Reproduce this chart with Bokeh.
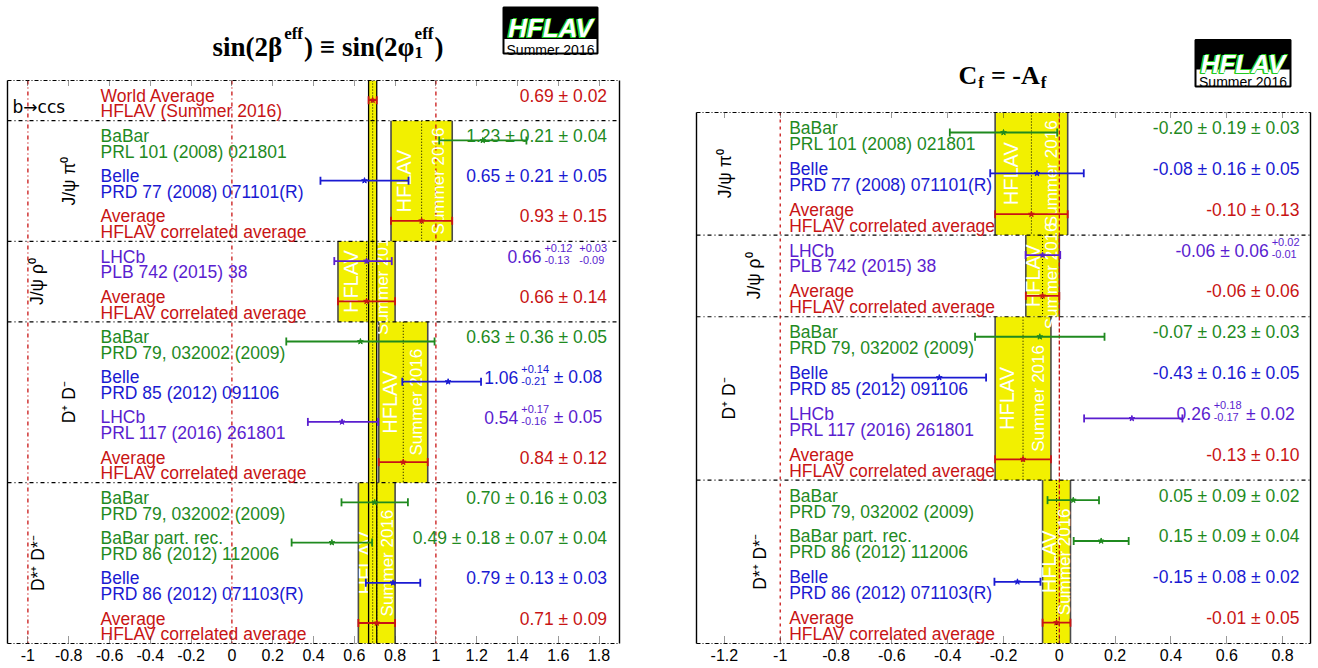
import math
from bokeh.plotting import figure
from bokeh.layouts import row, column
from bokeh.models import Range1d, LinearAxis, FixedTicker
from bokeh.core.properties import value
from bokeh.embed import file_html
from bokeh.resources import INLINE

# ---------------- data: left panel  sin(2beta_eff) ----------------
L_groups = ["b→ccs", "J/ψ π⁰", "J/ψ ρ⁰", "D⁺ D⁻", "D*⁺ D*⁻"]
L_group_sizes = [1, 3, 2, 4, 4]
L_exp = ["World Average", "BaBar", "Belle", "Average", "LHCb", "Average",
         "BaBar", "Belle", "LHCb", "Average",
         "BaBar", "BaBar part. rec.", "Belle", "Average"]
L_ref = ["HFLAV (Summer 2016)", "PRL 101 (2008) 021801", "PRD 77 (2008) 071101(R)",
         "HFLAV correlated average", "PLB 742 (2015) 38", "HFLAV correlated average",
         "PRD 79, 032002 (2009)", "PRD 85 (2012) 091106", "PRL 117 (2016) 261801",
         "HFLAV correlated average", "PRD 79, 032002 (2009)", "PRD 86 (2012) 112006",
         "PRD 86 (2012) 071103(R)", "HFLAV correlated average"]
L_val = [0.69, 1.23, 0.65, 0.93, 0.66, 0.66, 0.63, 1.06, 0.54, 0.84, 0.70, 0.49, 0.79, 0.71]
L_err_hi = [[0.02], [0.21, 0.04], [0.21, 0.05], [0.15], [0.12, 0.03], [0.14],
            [0.36, 0.05], [0.14, 0.08], [0.17, 0.05], [0.12],
            [0.16, 0.03], [0.18, 0.07, 0.04], [0.13, 0.03], [0.09]]
L_err_lo = [[0.02], [0.21, 0.04], [0.21, 0.05], [0.15], [0.13, 0.09], [0.14],
            [0.36, 0.05], [0.21, 0.08], [0.16, 0.05], [0.12],
            [0.16, 0.03], [0.18, 0.07, 0.04], [0.13, 0.03], [0.09]]
L_ticks = [-1, -0.8, -0.6, -0.4, -0.2, 0, 0.2, 0.4, 0.6, 0.8, 1, 1.2, 1.4, 1.6, 1.8]
L_tick_labels = ["-1", "-0.8", "-0.6", "-0.4", "-0.2", "0", "0.2", "0.4", "0.6",
                 "0.8", "1", "1.2", "1.4", "1.6", "1.8"]

# ---------------- data: right panel  C_f = -A_f ----------------
R_groups = ["J/ψ π⁰", "J/ψ ρ⁰", "D⁺ D⁻", "D*⁺ D*⁻"]
R_group_sizes = [3, 2, 4, 4]
R_exp = ["BaBar", "Belle", "Average", "LHCb", "Average",
         "BaBar", "Belle", "LHCb", "Average",
         "BaBar", "BaBar part. rec.", "Belle", "Average"]
R_ref = ["PRL 101 (2008) 021801", "PRD 77 (2008) 071101(R)", "HFLAV correlated average",
         "PLB 742 (2015) 38", "HFLAV correlated average",
         "PRD 79, 032002 (2009)", "PRD 85 (2012) 091106", "PRL 117 (2016) 261801",
         "HFLAV correlated average", "PRD 79, 032002 (2009)", "PRD 86 (2012) 112006",
         "PRD 86 (2012) 071103(R)", "HFLAV correlated average"]
R_val = [-0.20, -0.08, -0.10, -0.06, -0.06, -0.07, -0.43, 0.26, -0.13, 0.05, 0.15, -0.15, -0.01]
R_err_hi = [[0.19, 0.03], [0.16, 0.05], [0.13], [0.06, 0.02], [0.06],
            [0.23, 0.03], [0.16, 0.05], [0.18, 0.02], [0.10],
            [0.09, 0.02], [0.09, 0.04], [0.08, 0.02], [0.05]]
R_err_lo = [[0.19, 0.03], [0.16, 0.05], [0.13], [0.06, 0.01], [0.06],
            [0.23, 0.03], [0.16, 0.05], [0.17, 0.02], [0.10],
            [0.09, 0.02], [0.09, 0.04], [0.08, 0.02], [0.05]]
R_ticks = [-1.2, -1, -0.8, -0.6, -0.4, -0.2, 0, 0.2, 0.4, 0.6, 0.8]
R_tick_labels = ["-1.2", "-1", "-0.8", "-0.6", "-0.4", "-0.2", "0", "0.2", "0.4", "0.6", "0.8"]

# ---------------- style ----------------
GREEN = "#1f8a1f"
BLUE = "#1a1ad2"
PURPLE = "#5a1ecf"
RED = "#c81414"
YELLOW = "#f2f000"
COLORS = {"BaBar": GREEN, "BaBar part. rec.": GREEN, "Belle": BLUE, "LHCb": PURPLE,
          "Average": RED, "World Average": RED}
SANS = value("Liberation Sans")
SERIF = value("Liberation Serif")
FS = 17.5

AW = {'.': 278, ' ': 278, '±': 584, '+': 584, '-': 333}


def tw(s, size):
    return sum(AW.get(c, 556) for c in s) / 1000.0 * size


def value_pieces(v, hi, lo):
    pieces, cur = [], "%.2f" % v
    for h, l in zip(hi, lo):
        if abs(h - l) < 1e-9:
            cur += " ± %.2f" % h
        else:
            pieces.append(("t", cur))
            cur = ""
            pieces.append(("s", "+%.2f" % h, "-%.2f" % l))
    if cur:
        pieces.append(("t", cur))
    return pieces


def make_panel(W, H, mbl, mbr, mbt, mbb, x0, x1, groups, sizes, exps, refs, vals, hi, lo,
               ticks, tick_labels, frame_left_page, label_page_x, value_page_x, group_page_x,
               red_lines, red_dashes, world):
    N = sum(sizes)
    p = figure(width=W, height=H, x_range=Range1d(x0, x1), y_range=Range1d(N, 0),
               output_backend="svg", toolbar_location=None,
               min_border_left=mbl, min_border_right=mbr, min_border_top=mbt,
               min_border_bottom=mbb, x_axis_location=None, y_axis_location=None)
    p.grid.visible = False
    p.outline_line_color = None
    fw = W - mbl - mbr
    fh = H - mbt - mbb
    ppu = fw / (x1 - x0)
    ppy = fh / float(N)

    def px2x(px_page):
        return x0 + (px_page - frame_left_page) / ppu

    starts = []
    s = 0
    for n in sizes:
        starts.append(s)
        s += n

    # section bands
    band_groups = []
    for gi, (st, n) in enumerate(zip(starts, sizes)):
        if world and gi == 0:
            continue
        a = st + n - 1
        band_groups.append((st, n, vals[a], hi[a][0]))
    p.quad(left=[b[2] - b[3] for b in band_groups], right=[b[2] + b[3] for b in band_groups],
           top=[b[0] for b in band_groups], bottom=[b[0] + b[1] for b in band_groups],
           fill_color=YELLOW, line_color=None)
    ex, ey0, ey1 = [], [], []
    for st, n, v, e in band_groups:
        ex += [v - e, v + e]
        ey0 += [st, st]
        ey1 += [st + n, st + n]
    p.segment(x0=ex, y0=ey0, x1=ex, y1=ey1, line_color="#4a4a4a", line_width=1.6)

    # red reference lines
    for xv, dash in zip(red_lines, red_dashes):
        p.segment(x0=[xv], y0=[0], x1=[xv], y1=[N], line_color=RED, line_width=1.3,
                  line_dash=dash)

    # dotted average lines
    p.segment(x0=[b[2] for b in band_groups], y0=[b[0] for b in band_groups],
              x1=[b[2] for b in band_groups], y1=[b[0] + b[1] for b in band_groups],
              line_color="black", line_width=1, line_dash="1 2")

    # HFLAV / Summer 2016 watermark in the bands
    p.text(x=[b[2] - 0.56 * b[3] for b in band_groups], y=[b[0] + b[1] / 2.0 for b in band_groups],
           text=["HFLAV"] * len(band_groups), angle=math.pi / 2, text_align="center",
           text_baseline="middle", text_color="white", text_font=SANS, text_font_size="20px")
    p.text(x=[b[2] + 0.56 * b[3] for b in band_groups], y=[b[0] + b[1] / 2.0 for b in band_groups],
           text=["Summer 2016"] * len(band_groups), angle=math.pi / 2, text_align="center",
           text_baseline="middle", text_color="white", text_font=SANS, text_font_size="17px")

    # world average band
    if world:
        v0, e0 = vals[0], hi[0][0]
        p.quad(left=[v0 - e0], right=[v0 + e0], top=[0], bottom=[N], fill_color=YELLOW,
               line_color=None)
        p.segment(x0=[v0 - e0, v0 + e0], y0=[0, 0], x1=[v0 - e0, v0 + e0], y1=[N, N],
                  line_color="black", line_width=1.3)
        p.segment(x0=[v0], y0=[0], x1=[v0], y1=[N], line_color="black", line_width=1,
                  line_dash="1 2")

    # section separators
    seps = starts[1:]
    p.segment(x0=[x0] * len(seps), y0=seps, x1=[x1] * len(seps), y1=seps,
              line_color="black", line_width=1.2, line_dash="4 3 1 3")

    # error bars
    cap = 4.0 / ppy
    yb, xl, xr, cols, cx, cy0, cy1, ccol = [], [], [], [], [], [], [], []
    for i in range(N):
        eh = math.sqrt(sum(h * h for h in hi[i]))
        el = math.sqrt(sum(l * l for l in lo[i]))
        y = i + 0.49
        c = COLORS[exps[i]]
        yb.append(y)
        xl.append(vals[i] - el)
        xr.append(vals[i] + eh)
        cols.append(c)
        cx += [vals[i] - el, vals[i] + eh]
        cy0 += [y - cap, y - cap]
        cy1 += [y + cap, y + cap]
        ccol += [c, c]
    p.segment(x0=xl, y0=yb, x1=xr, y1=yb, line_color=cols, line_width=1.8)
    p.segment(x0=cx, y0=cy0, x1=cx, y1=cy1, line_color=ccol, line_width=1.8)
    p.scatter(x=vals, y=yb, marker="star", size=6, fill_color=cols, line_color=cols)

    # labels
    lx = px2x(label_page_x)
    ecol = [COLORS[e] for e in exps]
    p.text(x=[lx] * N, y=[i + 0.38 for i in range(N)], text=exps, text_color=ecol,
           text_font=SANS, text_font_size="%spx" % FS, text_baseline="alphabetic")
    p.text(x=[lx] * N, y=[i + 0.77 for i in range(N)], text=refs, text_color=ecol,
           text_font=SANS, text_font_size="%spx" % FS, text_baseline="alphabetic")

    # value strings, composed right to left
    tx, ty, tt, tc = [], [], [], []
    sx, sy, st_, sc = [], [], [], []
    for i in range(N):
        pieces = value_pieces(vals[i], hi[i], lo[i])
        cur = value_page_x
        yb0 = i + 0.38
        c = COLORS[exps[i]]
        for pc in reversed(pieces):
            if pc[0] == "t":
                tx.append(px2x(cur)); ty.append(yb0); tt.append(pc[1]); tc.append(c)
                cur -= tw(pc[1], FS) + 4
            else:
                w = max(tw(pc[1], 11), tw(pc[2], 11))
                left = cur - w
                sx += [px2x(left), px2x(left)]
                sy += [yb0 - 8.5 / ppy, yb0 + 3.4 / ppy]
                st_ += [pc[1], pc[2]]
                sc += [c, c]
                cur = left - 3
    p.text(x=tx, y=ty, text=tt, text_color=tc, text_font=SANS, text_font_size="%spx" % FS,
           text_align="right", text_baseline="alphabetic")
    p.text(x=sx, y=sy, text=st_, text_color=sc, text_font=SANS, text_font_size="11px",
           text_align="left", text_baseline="alphabetic")

    # group labels
    for gi, (g, st, n) in enumerate(zip(groups, starts, sizes)):
        gx = px2x(group_page_x[gi])
        if world and gi == 0:
            p.text(x=[gx], y=[st + 0.67], text=[g], text_font=value("DejaVu Sans"),
                   text_font_size="17px", text_color="black", text_align="left",
                   text_baseline="alphabetic")
        else:
            p.text(x=[gx], y=[st + n / 2.0], text=[g], text_font=SANS, text_font_size="17.5px",
                   text_color="black", text_align="center", text_baseline="middle",
                   angle=math.pi / 2)

    # axes / frame
    overrides = {t: l for t, l in zip(ticks, tick_labels)}
    bottom = LinearAxis(ticker=FixedTicker(ticks=ticks), major_label_overrides=overrides,
                        major_tick_in=7, major_tick_out=0, minor_tick_in=0, minor_tick_out=0,
                        major_tick_line_dash="1 1", major_tick_line_color="#333333",
                        axis_line_dash="4 2 1 2", axis_line_width=1.2,
                        major_label_standoff=5, major_label_text_font="Liberation Sans",
                        major_label_text_font_size="16px", major_label_text_color="black")
    top = LinearAxis(ticker=FixedTicker(ticks=ticks), major_label_overrides={t: "" for t in ticks},
                     major_tick_in=6, major_tick_out=0, minor_tick_in=0, minor_tick_out=0,
                     major_tick_line_dash="1 1", major_tick_line_color="#333333",
                     axis_line_dash="4 2 1 2", axis_line_width=1.2,
                     major_label_standoff=0, major_label_text_font_size="0px")
    p.add_layout(bottom, "below")
    p.add_layout(top, "above")
    for side in ("left", "right"):
        ax = LinearAxis(ticker=FixedTicker(ticks=[]), major_tick_in=0, major_tick_out=0,
                        minor_tick_in=0, minor_tick_out=0, major_label_standoff=0,
                        major_label_text_font_size="0px", axis_line_width=1.4,
                        axis_line_color="black")
        p.add_layout(ax, side)
    return p


def title_fig(W, H, mbl, mbr, page_x0):
    # frame aligned with the panel below; x in page pixels, y in page pixels (downwards)
    t = figure(width=W, height=H, x_range=Range1d(page_x0 + mbl, page_x0 + W - mbr),
               y_range=Range1d(H, 0), output_backend="svg", toolbar_location=None,
               min_border_left=mbl, min_border_right=mbr, min_border_top=0, min_border_bottom=0,
               x_axis_location=None, y_axis_location=None)
    t.grid.visible = False
    t.outline_line_color = None
    return t


def logo(t, xl, xr, yt, ysplit, yb, base1, base2):
    t.quad(left=[xl], right=[xr], top=[yt], bottom=[yb], fill_color="white",
           line_color="black", line_width=2)
    t.quad(left=[xl], right=[xr], top=[yt], bottom=[ysplit], fill_color="black",
           line_color="black", line_width=1)
    xc = (xl + xr) / 2.0
    for dx, dy in ((-1.5, 1.5), (-1.5, 0), (0, 1.5), (1.0, -0.8)):
        t.text(x=[xc + dx], y=[base1 + dy], text=["HFLAV"], text_color="#22cc22",
               text_font=SANS, text_font_style="bold italic", text_font_size="26px",
               text_align="center", text_baseline="alphabetic")
    t.text(x=[xc], y=[base1], text=["HFLAV"], text_color="white",
           text_font=SANS, text_font_style="bold italic", text_font_size="26px",
           text_align="center", text_baseline="alphabetic")
    t.text(x=[xc], y=[base2], text=["Summer 2016"], text_color="black",
           text_font=SANS, text_font_size="14px", text_align="center",
           text_baseline="alphabetic")


TW = {'s': 389, 'i': 278, 'n': 556, '(': 333, ')': 333, '2': 500, ' ': 250, 'e': 444,
      'f': 333, '1': 500, 'β': 560, 'φ': 600, '≡': 570, 'C': 722, '=': 570, '-': 333, 'A': 722}


def serif_w(s, size):
    return sum(TW.get(c, 500) for c in s) / 1000.0 * size


def compose(t, x, base, parts, big, small, up=13, down=6):
    def put(xx, yy, txt, size):
        t.text(x=[xx], y=[yy], text=[txt], text_font=SERIF, text_font_style="bold",
               text_font_size="%spx" % size, text_baseline="alphabetic", text_color="black")
    for kind, txt in parts:
        if kind == "n":
            put(x, base, txt, big)
            x += serif_w(txt, big) + 1
        elif kind == "gap":
            x += txt
        elif kind == "sup":
            put(x, base - up, txt, small)
            x += serif_w(txt, small) + 1
        elif kind == "sub":
            put(x, base + down, txt, small)
            x += serif_w(txt, small) + 1
        else:
            sup, sub = txt
            put(x, base - up, sup, small)
            put(x, base + down, sub, small)
            x += max(serif_w(sup, small), serif_w(sub, small)) + 1
    return x


# ---------------- build ----------------
# left column: page x 0..660 ; right column: page x 660..1318
pL = make_panel(660, 597, 7, 41, 10, 24, -1.1, 1.9, L_groups, L_group_sizes, L_exp, L_ref,
                L_val, L_err_hi, L_err_lo, L_ticks, L_tick_labels,
                frame_left_page=7, label_page_x=100, value_page_x=606.6,
                group_page_x=[12, 68.4, 36.8, 68.4, 37.9],
                red_lines=[-1, 0, 1], red_dashes=["4 3 1 3"] * 3, world=True)
pR = make_panel(658, 563, 36, 8, 8, 24, -1.3, 0.9, R_groups, R_group_sizes, R_exp, R_ref,
                R_val, R_err_hi, R_err_lo, R_ticks, R_tick_labels,
                frame_left_page=696, label_page_x=788.7, value_page_x=1299,
                group_page_x=[724, 753.8, 728.5, 759],
                red_lines=[-1, 0], red_dashes=["3 4", "4 2"], world=False)

tL = title_fig(660, 70, 7, 41, 0)
compose(tL, 212, 46, [("n", "sin(2β"), ("sup", "eff"), ("n", ") ≡ sin(2φ"),
                      ("supsub", ("eff", "1")), ("n", ")")], 27, 17)
logo(tL, 503, 597, 7, 38, 53, 27, 49)

tR = title_fig(658, 104, 36, 8, 660)
compose(tR, 958, 74.5, [("n", "C"), ("sub", "f"), ("gap", 6), ("n", "= -A"), ("sub", "f")],
        26, 17, down=7)
logo(tR, 1195, 1290, 39.5, 68.5, 86, 63, 81.5)

layout = row(column(tL, pL), column(tR, pR))
open("out.html", "w").write(file_html(layout, INLINE))
